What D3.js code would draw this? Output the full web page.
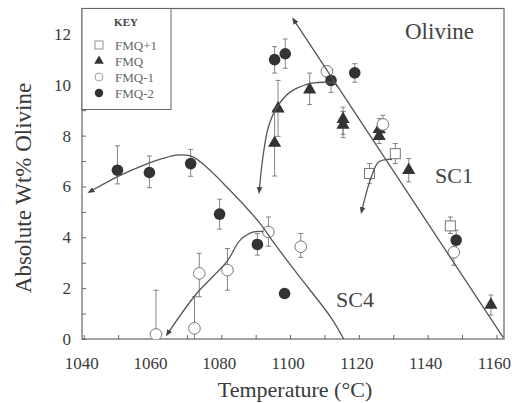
<!DOCTYPE html>
<html>
<head>
<meta charset="utf-8">
<script src="https://cdn.jsdelivr.net/npm/d3@7/dist/d3.min.js"></script>
<style>
  html, body { margin: 0; padding: 0; background: #fff; }
  svg { display: block; font-family: "Liberation Serif", "Times New Roman", serif; }
</style>
</head>
<body>
<svg id="chart" width="512" height="403"></svg>
<script>
// Temperature (°C), absolute wt% olivine, and error-bar limits for each oxygen buffer
const fmqPlus1 = [
  { t: 1123.1, wt: 6.51, lo: 6.11, hi: 6.90 },
  { t: 1130.6, wt: 7.29, lo: 6.90, hi: 7.69 },
  { t: 1146.6, wt: 4.45, lo: 4.15, hi: 4.80 }
];
const fmq = [
  { t: 1095.5, wt: 7.71, lo: 6.41, hi: 9.00 },
  { t: 1096.5, wt: 9.06, lo: 7.97, hi: 10.17 },
  { t: 1105.7, wt: 9.81, lo: 9.22, hi: 10.46 },
  { t: 1115.4, wt: 8.65, lo: 8.05, hi: 9.12 },
  { t: 1115.4, wt: 8.42, lo: 7.92, hi: 8.95 },
  { t: 1125.9, wt: 8.25, lo: 7.85, hi: 8.67 },
  { t: 1125.9, wt: 7.98, lo: 7.69, hi: 8.40 },
  { t: 1134.5, wt: 6.64, lo: 6.18, hi: 7.10 },
  { t: 1158.4, wt: 1.34, lo: 0.94, hi: 1.73 }
];
const fmqMinus1 = [
  { t: 1061.0, wt: 0.18, lo: 0.00, hi: 1.92 },
  { t: 1072.2, wt: 0.42, lo: 0.00, hi: 1.66 },
  { t: 1073.6, wt: 2.58, lo: 1.66, hi: 3.37 },
  { t: 1081.8, wt: 2.71, lo: 1.92, hi: 3.56 },
  { t: 1093.7, wt: 4.21, lo: 3.65, hi: 4.80 },
  { t: 1103.1, wt: 3.63, lo: 3.21, hi: 4.15 },
  { t: 1110.7, wt: 10.53, lo: 10.30, hi: 10.70 },
  { t: 1127.0, wt: 8.44, lo: 8.10, hi: 8.80 },
  { t: 1147.6, wt: 3.41, lo: 2.90, hi: 3.76 }
];
const fmqMinus2 = [
  { t: 1049.8, wt: 6.64, lo: 6.10, hi: 7.60 },
  { t: 1059.1, wt: 6.55, lo: 5.95, hi: 7.20 },
  { t: 1071.1, wt: 6.90, lo: 6.40, hi: 7.46 },
  { t: 1079.5, wt: 4.91, lo: 4.32, hi: 5.50 },
  { t: 1090.5, wt: 3.72, lo: 3.30, hi: 4.15 },
  { t: 1098.4, wt: 1.79, lo: 1.79, hi: 1.79 },
  { t: 1095.5, wt: 10.99, lo: 10.46, hi: 11.50 },
  { t: 1098.6, wt: 11.22, lo: 10.65, hi: 11.80 },
  { t: 1111.9, wt: 10.17, lo: 9.70, hi: 10.60 },
  { t: 1118.8, wt: 10.47, lo: 10.10, hi: 10.83 },
  { t: 1148.3, wt: 3.89, lo: 3.47, hi: 4.28 }
];

// Crystallisation paths: [temperature, wt%], first point carries the arrowhead
const sc4Upper = [[1042.5, 5.85], [1050, 6.40], [1057.3, 6.83], [1063, 7.10], [1067, 7.23],
  [1071, 7.20], [1074, 6.96], [1081.6, 5.98], [1091.3, 4.54], [1095.2, 3.80], [1102, 2.58],
  [1111.7, 0.88], [1115.6, 0]];
const sc4Lower = [[1064.8, 0.29], [1072.9, 1.80], [1081.6, 3.04], [1085.5, 3.89], [1089.4, 4.21],
  [1092.3, 4.22]];
const sc1Line = [[1101.5, 12.46], [1162.0, 0.05]];
const sc1Arc = [[1091.1, 5.92], [1092.1, 7.16], [1093.7, 8.34], [1096.2, 9.12], [1100, 9.71],
  [1104.9, 10.02], [1109.7, 10.10], [1112.6, 10.07], [1113.9, 9.91]];
const sc1Small = [[1121.0, 5.13], [1123.3, 6.25], [1125.7, 6.96], [1128.2, 7.06], [1129.6, 7.06]];

const xTicks = [1040, 1050, 1060, 1070, 1080, 1090, 1100, 1110, 1120, 1130, 1140, 1150, 1160];
const xTickLabels = [1040, 1060, 1080, 1100, 1120, 1140, 1160];
const yTicks = d3.range(0, 14, 1);
const yTickLabels = [0, 2, 4, 6, 8, 10, 12];

const legendItems = ["FMQ+1", "FMQ", "FMQ-1", "FMQ-2"];

const ink = "#3a3a3a";
const lineInk = "#555";
const frameInk = "#666";

const svg = d3.select("#chart");
const plotLeft = 82, plotRight = 504, plotTop = 8.5, plotBottom = 339;

const x = d3.scaleLinear().domain([1039.5, 1162.2]).range([plotLeft, plotRight]);
const y = d3.scaleLinear().domain([0, 13]).range([plotBottom, plotTop]);

// Arrowhead marker
const defs = svg.append("defs");
defs.append("marker")
  .attr("id", "arrow")
  .attr("viewBox", "0 0 10 10")
  .attr("refX", 2).attr("refY", 5)
  .attr("markerWidth", 7).attr("markerHeight", 7)
  .attr("markerUnits", "userSpaceOnUse")
  .attr("orient", "auto-start-reverse")
  .append("path")
  .attr("d", "M0,1 L10,5 L0,9 Z")
  .attr("fill", "#444");

defs.append("clipPath").attr("id", "plotClip")
  .append("rect").attr("x", plotLeft).attr("y", plotTop)
  .attr("width", plotRight - plotLeft).attr("height", plotBottom - plotTop);

// Axes with inward ticks
const xAxis = d3.axisBottom(x).tickValues(xTicks).tickSize(-4).tickFormat("");
const yAxis = d3.axisLeft(y).tickValues(yTicks).tickSize(-4).tickFormat("");

const gx = svg.append("g").attr("transform", `translate(0,${plotBottom})`).call(xAxis);
const gy = svg.append("g").attr("transform", `translate(${plotLeft},0)`).call(yAxis);
[gx, gy].forEach(g => {
  g.select(".domain").remove();
  g.selectAll(".tick line").attr("stroke", frameInk).attr("stroke-width", 1);
});

// Frame
svg.append("rect")
  .attr("x", plotLeft).attr("y", plotTop)
  .attr("width", plotRight - plotLeft).attr("height", plotBottom - plotTop)
  .attr("fill", "none").attr("stroke", frameInk).attr("stroke-width", 1.2);

// Tick labels
svg.append("g").selectAll("text").data(xTickLabels).join("text")
  .attr("x", d => x(d) - 2).attr("y", plotBottom + 30)
  .attr("text-anchor", "middle")
  .attr("font-size", 17).attr("fill", ink)
  .text(d => d);
svg.append("g").selectAll("text").data(yTickLabels).join("text")
  .attr("x", plotLeft - 11).attr("y", d => y(d)).attr("dy", "0.35em")
  .attr("text-anchor", "end")
  .attr("font-size", 17).attr("fill", ink)
  .text(d => d);

// Axis titles
svg.append("text")
  .attr("x", 295).attr("y", 397)
  .attr("text-anchor", "middle").attr("font-size", 22).attr("fill", ink)
  .text("Temperature (°C)");
svg.append("text")
  .attr("transform", "translate(31,188) rotate(-90)")
  .attr("text-anchor", "middle").attr("font-size", 23).attr("fill", ink)
  .text("Absolute Wt% Olivine");

// Paths
const plot = svg.append("g").attr("clip-path", "url(#plotClip)");
const curve = d3.line().x(d => x(d[0])).y(d => y(d[1])).curve(d3.curveCatmullRom.alpha(0.5));
const straight = d3.line().x(d => x(d[0])).y(d => y(d[1]));

[[sc4Upper, curve], [sc4Lower, curve], [sc1Line, straight], [sc1Arc, curve], [sc1Small, curve]]
  .forEach(([pts, gen]) => {
    svg.append("path").datum(pts).attr("d", gen)
      .attr("fill", "none").attr("stroke", lineInk).attr("stroke-width", 1.3)
      .attr("marker-start", "url(#arrow)");
  });

// Error bars
function errorBars(data) {
  const g = plot.append("g").attr("stroke", "#777").attr("stroke-width", 0.9);
  const d2 = data.filter(d => d.hi > d.lo);
  g.selectAll("line.v").data(d2).join("line").attr("class", "v")
    .attr("x1", d => x(d.t)).attr("x2", d => x(d.t))
    .attr("y1", d => y(d.lo)).attr("y2", d => y(d.hi));
  g.selectAll("line.h").data(d2).join("line").attr("class", "h")
    .attr("x1", d => x(d.t) - 2.5).attr("x2", d => x(d.t) + 2.5)
    .attr("y1", d => y(d.hi)).attr("y2", d => y(d.hi));
  g.selectAll("line.l").data(d2.filter(d => d.lo > 0)).join("line").attr("class", "l")
    .attr("x1", d => x(d.t) - 2.5).attr("x2", d => x(d.t) + 2.5)
    .attr("y1", d => y(d.lo)).attr("y2", d => y(d.lo));
}
[fmqPlus1, fmq, fmqMinus1, fmqMinus2].forEach(errorBars);

// Symbols
const tri = d3.symbol().type(d3.symbolTriangle);
plot.append("g").selectAll("rect").data(fmqPlus1).join("rect")
  .attr("x", d => x(d.t) - 5).attr("y", d => y(d.wt) - 5)
  .attr("width", 10).attr("height", 10)
  .attr("fill", "#fff").attr("stroke", "#777").attr("stroke-width", 1);
plot.append("g").selectAll("path").data(fmq).join("path")
  .attr("transform", d => `translate(${x(d.t)},${y(d.wt)})`)
  .attr("d", tri.size(75))
  .attr("fill", "#333");
plot.append("g").selectAll("circle").data(fmqMinus1).join("circle")
  .attr("cx", d => x(d.t)).attr("cy", d => y(d.wt)).attr("r", 5.8)
  .attr("fill", "#fff").attr("stroke", "#777").attr("stroke-width", 1);
plot.append("g").selectAll("circle").data(fmqMinus2).join("circle")
  .attr("cx", d => x(d.t)).attr("cy", d => y(d.wt)).attr("r", 5.8)
  .attr("fill", "#333");

// Labels in the plot
svg.append("text").attr("x", 405).attr("y", 39).attr("font-size", 23).attr("fill", "#444").text("Olivine");
svg.append("text").attr("x", 435).attr("y", 183).attr("font-size", 22).attr("fill", "#444").text("SC1");
svg.append("text").attr("x", 336).attr("y", 307).attr("font-size", 22).attr("fill", "#444").text("SC4");

// Legend
const lg = svg.append("g");
lg.append("rect").attr("x", plotLeft).attr("y", plotTop).attr("width", 89).attr("height", 101)
  .attr("fill", "#fff").attr("stroke", frameInk).attr("stroke-width", 1);
lg.append("text").attr("x", 126).attr("y", 26).attr("text-anchor", "middle")
  .attr("font-size", 11).attr("font-weight", "bold").attr("fill", "#444").text("KEY");
const rowY = i => 45 + i * 16;
legendItems.forEach((name, i) => {
  const cy = rowY(i), cx = 99;
  if (i === 0) lg.append("rect").attr("x", cx - 4).attr("y", cy - 4).attr("width", 8).attr("height", 8)
    .attr("fill", "#fff").attr("stroke", "#888").attr("stroke-width", 0.9);
  if (i === 1) lg.append("path").attr("transform", `translate(${cx},${cy})`)
    .attr("d", d3.symbol().type(d3.symbolTriangle).size(40)).attr("fill", "#333");
  if (i === 2) lg.append("circle").attr("cx", cx).attr("cy", cy).attr("r", 4)
    .attr("fill", "#fff").attr("stroke", "#999").attr("stroke-width", 0.9);
  if (i === 3) lg.append("circle").attr("cx", cx).attr("cy", cy).attr("r", 4.2).attr("fill", "#333");
  lg.append("text").attr("x", 115).attr("y", cy).attr("dy", "0.35em")
    .attr("font-size", 13).attr("fill", "#666").text(name);
});
</script>
</body>
</html>
